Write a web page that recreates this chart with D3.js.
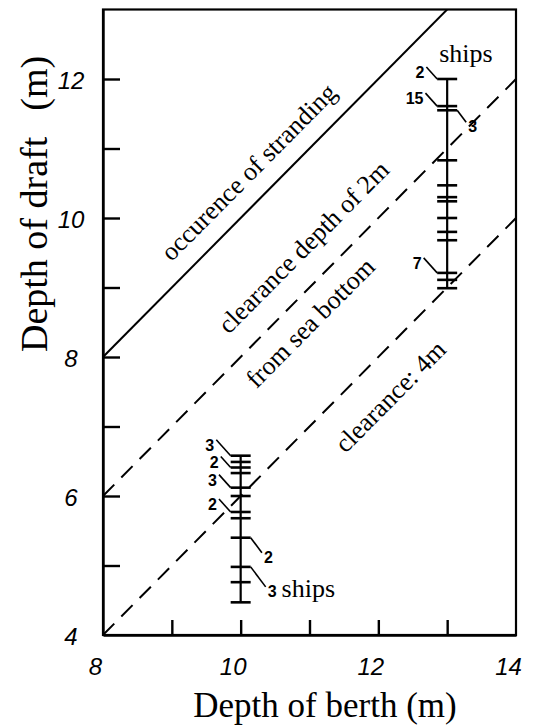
<!DOCTYPE html>
<html>
<head>
<meta charset="utf-8">
<script src="https://cdn.jsdelivr.net/npm/d3@7"></script>
<style>
  body { margin: 0; background: #fff; }
  svg { display: block; }
</style>
</head>
<body>
<div id="chart"></div>
<script>
// axis ranges and ticks
const berthDomain = [8, 14];
const draftDomain = [4, 13];
const berthTicks = [9, 10, 11, 12, 13];
const berthTickLabels = [8, 10, 12, 14];
const draftTicks = [5, 6, 7, 8, 9, 10, 11, 12];
const draftTickLabels = [4, 6, 8, 10, 12];

// reference lines: draft = berth - clearance
const clearances = [0, 2, 4];
const lineLabels = ["occurence of stranding", "clearance depth of 2m", "from sea bottom", "clearance: 4m"];
const lineLabelClearance = [0, 2, 2, 4];

// observed ship drafts at each berth
const berths = [10, 13];
const drafts = [
  [6.58, 6.49, 6.41, 6.33, 6.12, 6.0, 5.77, 5.68, 5.4, 4.98, 4.76, 4.47],
  [12.0, 11.61, 11.55, 10.83, 10.47, 10.3, 10.24, 10.0, 9.8, 9.68, 9.21, 9.11, 8.99]
];

// number of ships at some drafts
const countBerth = [10, 10, 10, 10, 10, 10, 13, 13, 13, 13];
const countDraft = [6.58, 6.41, 6.12, 5.77, 5.4, 4.98, 12.0, 11.61, 11.55, 9.21];
const countText = ["3", "2", "3", "2", "2", "3", "2", "15", "3", "7"];
const countSide = ["l", "l", "l", "l", "r", "r", "l", "l", "r", "l"];

// layout for the labels (where along the line, px off the line, leader drop)
const labelAlong = [10.39, 11.25, 10.75, 11.8];
const labelOff = [-18, -24, 34, 45];
const countLead = [16, 11, 13, 13, 15, 20, 12, 13, 12, 15];

const W = 533, H = 726;

const svg = d3.select("#chart")
  .append("svg")
  .attr("width", W)
  .attr("height", H);

const x = d3.scaleLinear().domain(berthDomain).range([103, 516]);
const y = d3.scaleLinear().domain(draftDomain).range([635, 9.5]);

const sans = "'Liberation Sans', Arial, sans-serif";
const serif = "'Liberation Serif', 'Times New Roman', serif";

// clip for the diagonal lines
svg.append("clipPath")
  .attr("id", "plotclip")
  .append("rect")
  .attr("x", x(8))
  .attr("y", y(13))
  .attr("width", x(14) - x(8))
  .attr("height", y(4) - y(13));

// frame
svg.append("rect")
  .attr("x", x(8))
  .attr("y", y(13))
  .attr("width", x(14) - x(8))
  .attr("height", y(4) - y(13))
  .attr("fill", "none")
  .attr("stroke", "#000")
  .attr("stroke-width", 2.2);

// x axis ticks (inward)
const xAxis = svg.append("g")
  .attr("transform", `translate(0,${y(4)})`)
  .call(d3.axisBottom(x).tickValues(berthTicks).tickSize(-15).tickSizeOuter(0).tickFormat(""));
xAxis.selectAll("line, path").attr("stroke", "#000").attr("stroke-width", 2.4);

// x tick labels
svg.append("g")
  .attr("transform", `translate(0,${y(4)})`)
  .call(d3.axisBottom(x).tickValues(berthTickLabels).tickSize(0).tickFormat(d3.format("d")))
  .call((g) => g.select(".domain").remove())
  .selectAll("text")
  .attr("y", 40)
  .attr("dy", 0)
  .attr("dx", -8)
  .attr("fill", "#000")
  .style("font-family", sans)
  .style("font-style", "italic")
  .style("font-size", "24px");

// y axis ticks (inward)
const yAxis = svg.append("g")
  .attr("transform", `translate(${x(8)},0)`)
  .call(d3.axisLeft(y).tickValues(draftTicks).tickSize(-17).tickSizeOuter(0).tickFormat(""));
yAxis.selectAll("line, path").attr("stroke", "#000").attr("stroke-width", 2.4);

// y tick labels
svg.append("g")
  .attr("transform", `translate(${x(8)},0)`)
  .call(d3.axisLeft(y).tickValues(draftTickLabels).tickSize(0).tickFormat(d3.format("d")))
  .call((g) => g.select(".domain").remove())
  .selectAll("text")
  .attr("x", -32)
  .attr("dy", 0)
  .attr("y", 9)
  .attr("text-anchor", "middle")
  .attr("fill", "#000")
  .style("font-family", sans)
  .style("font-style", "italic")
  .style("font-size", "24px");

// axis titles
svg.append("text")
  .attr("x", 325)
  .attr("y", 717)
  .attr("text-anchor", "middle")
  .style("font-family", serif)
  .style("font-size", "35px")
  .text("Depth of berth (m)");

const yTitle = svg.append("text")
  .attr("transform", "translate(47,352) rotate(-90)")
  .style("font-family", serif)
  .style("font-size", "38px");
yTitle.append("tspan").text("Depth of draft");
yTitle.append("tspan").attr("dx", 26).text("(m)");

// reference lines
const line = d3.line()
  .x((d) => x(d[0]))
  .y((d) => y(d[1]));

svg.append("g")
  .attr("clip-path", "url(#plotclip)")
  .selectAll("path")
  .data(clearances)
  .join("path")
  .attr("d", (c) => line([[8, 8 - c], [14, 14 - c]]))
  .attr("fill", "none")
  .attr("stroke", "#000")
  .attr("stroke-width", 2)
  .attr("stroke-dasharray", (c) => (c === 0 ? null : "16,10"));

// labels along the lines
const ux = x(9) - x(8), uy = y(8) - y(9);
const len = Math.hypot(ux, uy);
const nx = uy / len, ny = ux / len; // normal pointing down-right
const angle = -Math.atan2(uy, ux) * 180 / Math.PI;

svg.append("g")
  .selectAll("text")
  .data(lineLabels)
  .join("text")
  .attr("transform", (d, i) => {
    const bx = labelAlong[i];
    const fx = x(bx), fy = y(bx - lineLabelClearance[i]);
    const px = fx + labelOff[i] * nx, py = fy + labelOff[i] * ny;
    return `translate(${px},${py}) rotate(${angle})`;
  })
  .attr("text-anchor", "middle")
  .style("font-family", serif)
  .style("font-size", "26px")
  .text((d) => d);

// ship draft bars
const capHalf = 10;
const groups = svg.append("g")
  .selectAll("g")
  .data(berths)
  .join("g");

groups.append("line")
  .attr("x1", (b) => x(b))
  .attr("x2", (b) => x(b))
  .attr("y1", (b, i) => y(d3.max(drafts[i])))
  .attr("y2", (b, i) => y(d3.min(drafts[i])))
  .attr("stroke", "#000")
  .attr("stroke-width", 2.2);

groups.selectAll(".cap")
  .data((b, i) => drafts[i].map((d) => [b, d]))
  .join("line")
  .attr("class", "cap")
  .attr("x1", (d) => x(d[0]) - capHalf)
  .attr("x2", (d) => x(d[0]) + capHalf)
  .attr("y1", (d) => y(d[1]))
  .attr("y2", (d) => y(d[1]))
  .attr("stroke", "#000")
  .attr("stroke-width", 2.6);

// count labels with leader lines
const counts = countText.map((t, i) => {
  const cx = x(countBerth[i]), cy = y(countDraft[i]), dy = countLead[i];
  const left = countSide[i] === "l";
  const sx = left ? cx - capHalf : cx + capHalf;
  const ex = left ? sx - 0.9 * dy : sx + 0.75 * dy;
  const ey = left ? cy - dy : cy + dy;
  return { text: t, left, sx, sy: cy, ex, ey };
});

const cg = svg.append("g").selectAll("g").data(counts).join("g");

cg.append("line")
  .attr("x1", (c) => c.sx)
  .attr("y1", (c) => c.sy)
  .attr("x2", (c) => c.ex)
  .attr("y2", (c) => c.ey)
  .attr("stroke", "#000")
  .attr("stroke-width", 1.6);

const ct = cg.append("text")
  .attr("x", (c) => (c.left ? c.ex - 2 : c.ex + 2))
  .attr("y", (c) => (c.left ? c.ey + 11 : c.ey + 10))
  .attr("text-anchor", (c) => (c.left ? "end" : "start"))
  .style("font-family", sans)
  .style("font-weight", "bold")
  .style("font-size", "16px")
  .text((c) => c.text);

// "ships" unit after the lowest count
ct.filter((c, i) => i === 5)
  .append("tspan")
  .attr("dx", 5)
  .style("font-family", serif)
  .style("font-weight", "normal")
  .style("font-size", "26px")
  .text("ships");

// "ships" over the deep berth group
svg.append("text")
  .attr("x", x(13) - 8)
  .attr("y", y(d3.max(drafts[1])) - 17)
  .style("font-family", serif)
  .style("font-size", "26px")
  .text("ships");
</script>
</body>
</html>
